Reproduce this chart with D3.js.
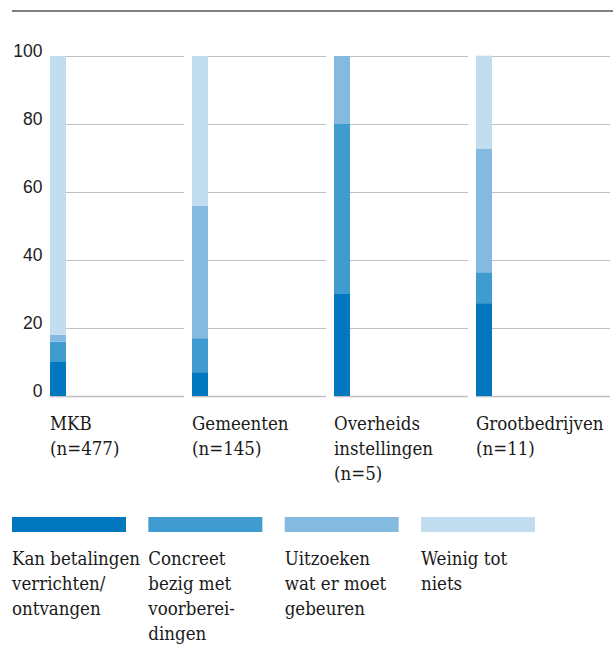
<!DOCTYPE html>
<html>
<head>
<meta charset="utf-8">
<script src="https://cdn.jsdelivr.net/npm/d3@7"></script>
<style>
  html, body { margin: 0; padding: 0; background: #fff; }
  svg { display: block; }
  .serif { font-family: "DejaVu Serif Condensed", "DejaVu Serif", serif; font-stretch: condensed; }
  .sans { font-family: "Liberation Sans", Arial, sans-serif; }
</style>
</head>
<body>
<div id="chart"></div>
<script>
// ---- Data ----
const categories = ["MKB", "Gemeenten", "Overheids", "Grootbedrijven"];
const categoryLabels = [
  ["MKB", "(n=477)"],
  ["Gemeenten", "(n=145)"],
  ["Overheids", "instellingen", "(n=5)"],
  ["Grootbedrijven", "(n=11)"]
];
const seriesKeys = ["kan", "concreet", "uitzoeken", "weinig"];
const seriesLabels = [
  ["Kan betalingen", "verrichten/", "ontvangen"],
  ["Concreet", "bezig met", "voorberei-", "dingen"],
  ["Uitzoeken", "wat er moet", "gebeuren"],
  ["Weinig tot", "niets"]
];
const kanValues       = [10, 7, 30, 27.3];
const concreetValues  = [6, 10, 50, 9.1];
const uitzoekenValues = [2, 39, 20, 36.4];
const weinigValues    = [82, 44, 0, 27.3];
const yTicks = [0, 20, 40, 60, 80, 100];
const colors = ["#0077be", "#3f9bd0", "#84badf", "#c1ddef"];

// ---- Build table ----
const table = categories.map((c, i) => ({
  cat: c,
  kan: kanValues[i],
  concreet: concreetValues[i],
  uitzoeken: uitzoekenValues[i],
  weinig: weinigValues[i]
}));

const W = 613, H = 645;
const svg = d3.select("#chart").append("svg")
  .attr("width", W).attr("height", H);

// Top rule
svg.append("line")
  .attr("x1", 12).attr("x2", W)
  .attr("y1", 11).attr("y2", 11)
  .attr("stroke", "#808080").attr("stroke-width", 2);

// Scales
const y = d3.scaleLinear().domain([0, 100]).range([396, 56]);
const x = d3.scaleBand().domain(categories).range([50, 610])
  .paddingInner(8 / 142).paddingOuter(0);
const barW = 16;
const color = d3.scaleOrdinal().domain(seriesKeys).range(colors);

// Y axis labels
const yAxis = d3.axisLeft(y).tickValues(yTicks).tickSize(0).tickPadding(0)
  .tickFormat(d3.format("d"));
const yg = svg.append("g").attr("transform", "translate(42.5,0)").call(yAxis)
  .attr("font-family", null).attr("font-size", null);
yg.select(".domain").remove();
yg.selectAll("text")
  .attr("class", "sans")
  .style("font-size", "17.5px")
  .attr("fill", "#222")
  .attr("dy", "0.5px")
  .attr("x", 0)
  .attr("text-anchor", "end");

// Per-panel gridlines
categories.forEach(c => {
  const g = svg.append("g");
  g.selectAll("line").data(yTicks).join("line")
    .attr("x1", x(c)).attr("x2", x(c) + x.bandwidth())
    .attr("y1", d => Math.round(y(d)) + 0.5)
    .attr("y2", d => Math.round(y(d)) + 0.5)
    .attr("stroke", "#c0c0c0")
    .attr("stroke-width", d => d === 0 ? 1.6 : 1.2);
});

// Stacked bars
const stack = d3.stack().keys(seriesKeys);
const layers = stack(table);
svg.append("g").selectAll("g").data(layers).join("g")
  .attr("fill", d => color(d.key))
  .selectAll("rect").data(d => d).join("rect")
  .attr("x", d => x(d.data.cat))
  .attr("width", barW)
  .attr("y", d => y(d[1]))
  .attr("height", d => Math.max(0, y(d[0]) - y(d[1])));

// Category labels
categories.forEach((c, i) => {
  const t = svg.append("text")
    .attr("class", "serif")
    .style("font-size", "18.5px")
    .attr("fill", "#1a1a1a");
  categoryLabels[i].forEach((line, j) => {
    t.append("tspan").attr("x", x(c)).attr("y", 430 + j * 25).text(line);
  });
});

// Legend
const lx = d3.scaleBand().domain(seriesKeys).range([12, 535])
  .paddingInner(0.164).paddingOuter(0);
seriesKeys.forEach((k, i) => {
  svg.append("rect")
    .attr("x", lx(k)).attr("y", 517)
    .attr("width", lx.bandwidth()).attr("height", 15)
    .attr("fill", color(k));
  const t = svg.append("text")
    .attr("class", "serif")
    .style("font-size", "18.5px")
    .attr("fill", "#1a1a1a");
  seriesLabels[i].forEach((line, j) => {
    t.append("tspan").attr("x", lx(k)).attr("y", 565 + j * 25).text(line);
  });
});
</script>
</body>
</html>
